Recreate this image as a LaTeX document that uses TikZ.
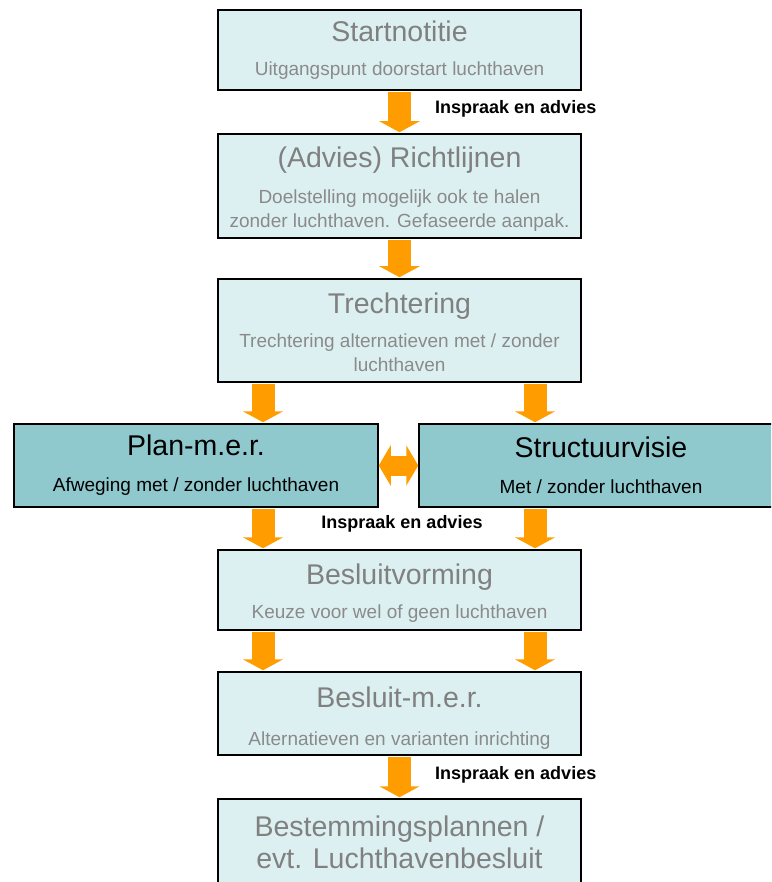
\documentclass[tikz,border=0pt]{standalone}
\usepackage{fontspec}
\setmainfont{Liberation Sans}
\usetikzlibrary{arrows.meta}

\definecolor{boxlight}{HTML}{DDF0F1}
\definecolor{boxdark}{HTML}{8FC9CE}
\definecolor{ttlgray}{HTML}{808080}
\definecolor{subgray}{HTML}{8A8A8A}
\definecolor{flowor}{HTML}{FF9C00}

\newcommand\boxttl{\fontsize{28.5}{32}\selectfont}
\newcommand\boxsub{\fontsize{19}{24}\selectfont}

\tikzset{
  lightbox/.style={draw=black, line width=1.5pt, fill=boxlight, text=subgray,
    minimum width=363pt, align=center, font=\boxsub, inner sep=0pt},
  darkbox/.style={lightbox, fill=boxdark, text=black, minimum width=364pt, minimum height=83pt},
  flow/.style={draw=flowor, line width=23pt, -{Triangle[width=40pt,length=11pt]},
    shorten <=1.5pt, shorten >=1pt},
  flowboth/.style={draw=flowor, line width=20pt,
    {Triangle[width=40pt,length=12pt]}-{Triangle[width=40pt,length=12pt]}},
  advlabel/.style={font=\fontsize{18}{20}\selectfont\bfseries, inner sep=0pt}
}

\begin{document}
\begin{tikzpicture}[x=1pt,y=-1pt]
  \path[use as bounding box,clip] (0,0) rectangle (771,882);
  % x positions of the side arrows
  \coordinate (lcol) at (263,0);
  \coordinate (rcol) at (535,0);

  \node[lightbox, minimum height=80pt] (start) at (399.5,50)
    {{\boxttl\color{ttlgray}Startnotitie}\\[10pt]Uitgangspunt doorstart luchthaven};
  \node[lightbox, minimum height=104pt] (richtl) at (399.5,186)
    {{\boxttl\color{ttlgray}\rule{0pt}{26pt}(Advies) Richtlijnen}\\[12pt]Doelstelling mogelijk ook te halen\\zonder luchthaven. Gefaseerde aanpak.};
  \node[lightbox, minimum height=103pt] (trecht) at (399.5,330.5)
    {{\boxttl\color{ttlgray}\rule{0pt}{24pt}Trechtering}\\[10pt]Trechtering alternatieven met / zonder\\luchthaven};
  \node[darkbox] (planmer) at (196,465.5)
    {{\boxttl Plan-m.e.r.}\\[12pt]Afweging met / zonder luchthaven};
  \node[darkbox] (struct) at (601,465.5)
    {{\boxttl Structuurvisie}\\[12pt]Met / zonder luchthaven};
  \node[lightbox, minimum height=80pt] (besluit) at (399.5,590)
    {{\boxttl\color{ttlgray}\rule{0pt}{26pt}Besluitvorming}\\[10pt]Keuze voor wel of geen luchthaven};
  \node[lightbox, minimum height=83pt] (besmer) at (399.5,713.5)
    {{\boxttl\color{ttlgray}\rule{0pt}{30pt}Besluit-m.e.r.}\\[14pt]Alternatieven en varianten inrichting};
  \node[lightbox, minimum height=86pt, font=\boxttl, text=ttlgray] (bestem) at (399.5,842)
    {Bestemmingsplannen /\\evt. Luchthavenbesluit};

  % arrows
  \draw[flow] (start) -- (richtl);
  \draw[flow] (richtl) -- (trecht);
  \draw[flow] (trecht.south -| lcol) -- (planmer.north -| lcol);
  \draw[flow] (trecht.south -| rcol) -- (struct.north -| rcol);
  \draw[flowboth] (planmer) -- (struct);
  \draw[flow] (planmer.south -| lcol) -- (besluit.north -| lcol);
  \draw[flow] (struct.south -| rcol) -- (besluit.north -| rcol);
  \draw[flow] (besluit.south -| lcol) -- (besmer.north -| lcol);
  \draw[flow] (besluit.south -| rcol) -- (besmer.north -| rcol);
  \draw[flow] (besmer) -- (bestem);

  \node[advlabel, anchor=west] (adv1) at (435,109) {Inspraak en advies};
  \node[advlabel] (adv2) at (402,524) {Inspraak en advies};
  \node[advlabel, anchor=west] (adv3) at (435,775) {Inspraak en advies};
\end{tikzpicture}
\end{document}
